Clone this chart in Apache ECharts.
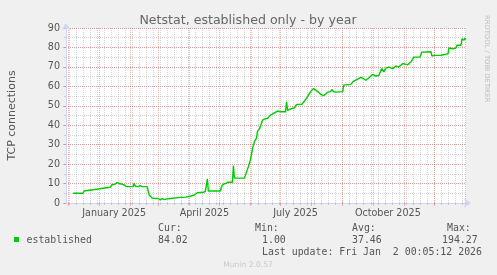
<!DOCTYPE html>
<html><head><meta charset="utf-8">
<script src="https://cdn.jsdelivr.net/npm/echarts@6/dist/echarts.min.js"></script>
<style>html,body{margin:0;padding:0;background:#F0F0F0;}#c{width:497px;height:275px;}</style>
</head><body><div id="c"></div>
<script>
const chartTitle = 'Netstat, established only - by year';
const yAxisName = 'TCP connections';
const seriesName = 'established';

const dates = ['2024-12-06','2024-12-16','2024-12-17','2024-12-18','2024-12-31','2025-01-01','2025-01-12','2025-01-14','2025-01-17','2025-01-19','2025-01-20','2025-01-21','2025-01-22','2025-01-23','2025-01-24','2025-01-26','2025-01-28','2025-02-01','2025-02-04','2025-02-05','2025-02-06','2025-02-09','2025-02-11','2025-02-13','2025-02-18','2025-02-19','2025-02-20','2025-02-21','2025-02-23','2025-02-25','2025-02-26','2025-02-27','2025-02-28','2025-03-01','2025-03-03','2025-03-04','2025-03-05','2025-03-07','2025-03-08','2025-03-09','2025-03-11','2025-03-12','2025-03-23','2025-03-24','2025-03-26','2025-03-28','2025-03-31','2025-04-01','2025-04-06','2025-04-07','2025-04-09','2025-04-15','2025-04-17','2025-04-18','2025-04-19','2025-04-20','2025-05-02','2025-05-03','2025-05-04','2025-05-06','2025-05-08','2025-05-10','2025-05-14','2025-05-15','2025-05-16','2025-05-26','2025-05-27','2025-05-30','2025-06-01','2025-06-03','2025-06-05','2025-06-07','2025-06-08','2025-06-10','2025-06-13','2025-06-15','2025-06-18','2025-06-21','2025-06-24','2025-06-28','2025-07-01','2025-07-06','2025-07-07','2025-07-08','2025-07-09','2025-07-12','2025-07-15','2025-07-17','2025-07-22','2025-07-24','2025-07-28','2025-07-31','2025-08-03','2025-08-07','2025-08-10','2025-08-13','2025-08-17','2025-08-20','2025-08-21','2025-08-23','2025-08-25','2025-09-01','2025-09-02','2025-09-09','2025-09-12','2025-09-16','2025-09-19','2025-09-22','2025-09-24','2025-09-27','2025-10-01','2025-10-04','2025-10-07','2025-10-10','2025-10-12','2025-10-14','2025-10-17','2025-10-21','2025-10-24','2025-10-27','2025-10-31','2025-11-05','2025-11-08','2025-11-11','2025-11-17','2025-11-19','2025-11-28','2025-11-29','2025-12-01','2025-12-08','2025-12-09','2025-12-15','2025-12-16','2025-12-20','2025-12-23','2025-12-24','2025-12-28','2025-12-29','2025-12-31','2026-01-01','2026-01-01T18:00:00'];
const values = [5.0,5.0,6.2,7.2,7.2,8.1,8.1,9.4,9.7,10.5,10.9,10.0,9.0,9.8,8.8,9.3,8.5,8.4,8.5,10.2,8.6,8.4,8.9,8.4,8.4,6.0,4.0,3.3,2.6,2.4,3.0,2.3,3.3,2.3,1.6,1.0,2.2,1.8,2.6,2.0,2.2,2.9,2.9,3.3,2.9,3.0,3.2,4.1,4.1,5.0,5.3,5.5,6.0,6.1,12.4,6.2,6.2,8.0,9.3,9.8,10.2,10.7,10.7,19.3,12.8,12.8,13.1,18.8,22.2,27.8,31.7,33.4,36.9,38.1,42.6,43.2,43.5,45.2,46.1,47.3,46.9,46.9,52.1,47.7,48.7,48.5,49.0,50.7,50.7,51.8,54.7,57.3,58.9,57.3,55.9,55.2,57.0,57.3,58.4,57.2,57.0,57.3,60.6,61.0,62.7,63.7,64.6,63.9,63.1,64.3,66.2,65.3,65.6,69.1,67.4,69.4,69.9,69.1,70.5,69.9,71.7,71.1,72.5,75.0,75.0,77.6,77.8,75.5,75.9,76.0,76.7,76.7,79.7,79.3,79.7,81.1,81.1,84.5,83.7,84.8,84.0];

const yTicks = [0,10,20,30,40,50,60,70,80,90];
const xLabels = ['January 2025','April 2025','July 2025','October 2025'];
const xLabelDates = ['2025-01-16','2025-04-16','2025-07-16','2025-10-16'];
const monthStarts = ['2024-12-01','2025-01-01','2025-02-01','2025-03-01','2025-04-01','2025-05-01','2025-06-01','2025-07-01','2025-08-01','2025-09-01','2025-10-01','2025-11-01','2025-12-01','2026-01-01'];
const rangeStart = '2024-11-29', rangeEnd = '2026-01-02';

const legendHeads = ['Cur:','Min:','Avg:','Max:'];
const legendVals = ['84.02','1.00','37.46','194.27'];
const lastUpdate = 'Last update: Fri Jan  2 00:05:12 2026';
const footer = 'Munin 2.0.57';
const sideText = 'RRDTOOL / TOBI OETIKER';

const T = s => Date.parse(s.length > 10 ? s + 'Z' : s + 'T00:00:00Z');
const DAY = 86400000;
const xMin = T(rangeStart), xMax = T(rangeEnd);
const weekStarts = [];
for (let w = T('2024-12-02'); w < xMax; w += 7 * DAY) weekStarts.push(w);
const labelPos = xLabelDates.map(T);

const minorColor = 'rgba(143,143,143,0.38)';
const majorColor = 'rgba(222,79,79,0.42)';
const axisColor = '#CFD6F8';
const fontCol = '#555';
const dash = [1, 1];

const chart = echarts.init(document.getElementById('c'), null, {renderer: 'canvas'});
const baseX = {type: 'value', min: xMin, max: xMax, position: 'bottom', axisLine: {show: false}, axisLabel: {show: false}};
const baseY = {type: 'value', min: 0, max: 90, position: 'left', axisLine: {show: false}, axisLabel: {show: false}};

const mono = 'DejaVu Sans Mono';
const txt = (text, x, y, extra) => ({type: 'text', x, y, silent: true, style: Object.assign({text, fill: fontCol, font: '9.9px "' + mono + '"', verticalAlign: 'middle', align: 'left'}, extra || {})});
const legX = [158, 255, 352, 447];
const valX = [158, 262, 352, 442];
const graphics = [
  txt(chartTitle, 248, 20.5, {align: 'center', fill: '#666', font: '12.6px "DejaVu Sans"'}),
  txt(sideText, 487, 15, {fill: '#bbb', font: '6.8px "DejaVu Sans"'}),
  {type: 'rect', shape: {x: 14, y: 237, width: 5, height: 5}, style: {fill: '#00CC00'}},
  txt(seriesName, 26.5, 240.1),
  txt(lastUpdate, 262, 252.1),
  txt(footer, 248, 265, {align: 'center', fill: '#c8c8c8', font: '7.6px "DejaVu Sans"'})
];
graphics[1].rotation = -Math.PI / 2;
legendHeads.forEach((h, i) => graphics.push(txt(h, legX[i], 228.1)));
legendVals.forEach((v, i) => graphics.push(txt(v, valX[i], 240.1)));

chart.setOption({
  animation: false,
  backgroundColor: '#F0F0F0',
  grid: {left: 66, top: 28, width: 400, height: 175, show: true, backgroundColor: '#FFFFFF', borderWidth: 0, containLabel: false, outerBoundsMode: 'none'},
  xAxis: [
    Object.assign({}, baseX, {axisTick: {show: true, customValues: weekStarts, length: 2, lineStyle: {color: minorColor}}, splitLine: {show: true, lineStyle: {color: minorColor, type: dash}}}),
    Object.assign({}, baseX, {axisTick: {show: true, customValues: monthStarts.map(T), length: 3, lineStyle: {color: majorColor}}, splitLine: {show: true, lineStyle: {color: majorColor, type: dash}}}),
    Object.assign({}, baseX, {
      axisLine: {show: true, symbol: ['none', 'arrow'], symbolSize: [7, 7], symbolOffset: [0, 5], lineStyle: {color: axisColor, width: 1}},
      axisTick: {show: false}, splitLine: {show: false},
      axisLabel: {show: true, customValues: labelPos, formatter: v => xLabels[labelPos.indexOf(v)] || '', color: fontCol, fontFamily: 'DejaVu Sans', fontSize: 9.6, margin: 5}
    })
  ],
  yAxis: [
    Object.assign({}, baseY, {interval: 5, axisTick: {show: true, length: 2, lineStyle: {color: minorColor}}, splitLine: {show: true, lineStyle: {color: minorColor, type: dash}}}),
    Object.assign({}, baseY, {interval: 10, axisTick: {show: true, length: 3, lineStyle: {color: majorColor}}, splitLine: {show: true, lineStyle: {color: majorColor, type: dash}}}),
    Object.assign({}, baseY, {
      interval: 10,
      axisLine: {show: true, symbol: ['none', 'arrow'], symbolSize: [7, 7], symbolOffset: [0, 5], lineStyle: {color: axisColor, width: 1}},
      axisTick: {show: false}, splitLine: {show: false},
      axisLabel: {show: true, color: fontCol, fontFamily: 'DejaVu Sans', fontSize: 9.6, margin: 6, formatter: v => yTicks.indexOf(v) >= 0 ? String(v) : ''},
      name: yAxisName, nameLocation: 'middle', nameRotate: 90, nameGap: 48,
      nameTextStyle: {color: fontCol, fontFamily: 'DejaVu Sans', fontSize: 11}
    })
  ],
  series: [{
    name: seriesName, type: 'line', xAxisIndex: 2, yAxisIndex: 2,
    data: dates.map((d, i) => [T(d), values[i]]),
    showSymbol: false, symbol: 'none', lineStyle: {color: '#00CC00', width: 1.4}, z: 5
  }],
  graphic: graphics
});
</script></body></html>
